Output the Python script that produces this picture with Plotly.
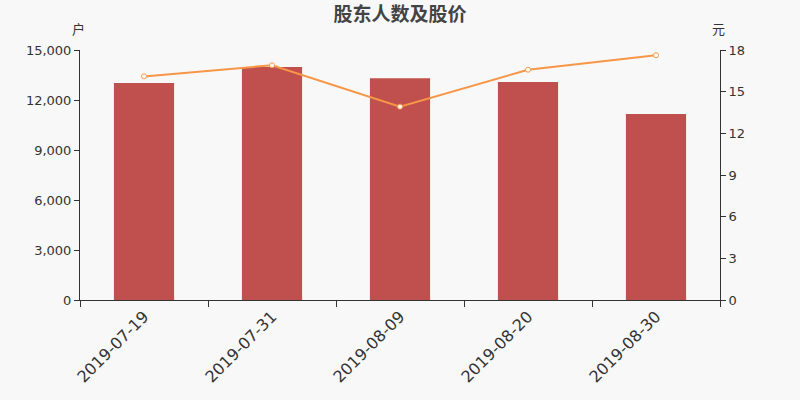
import plotly.graph_objects as go

dates = ["2019-07-19", "2019-07-31", "2019-08-09", "2019-08-20", "2019-08-30"]
holders = [13020, 13980, 13300, 13080, 11160]
prices = [16.1, 16.9, 13.92, 16.58, 17.62]

left_ticks = [0, 3000, 6000, 9000, 12000, 15000]
right_ticks = [0, 3, 6, 9, 12, 15, 18]

font_family = "DejaVu Sans, Noto Sans CJK SC, sans-serif"
cjk_family = "Noto Sans CJK SC, sans-serif"
axis_color = "#333333"
bg = "#f8f8f8"

fig = go.Figure()
fig.add_trace(go.Bar(
    x=dates, y=holders, marker=dict(color="#c0504d", line=dict(width=0)),
    width=0.47, name="股东人数", yaxis="y",
))
fig.add_trace(go.Scatter(
    x=dates, y=prices, mode="lines+markers", yaxis="y2", name="股价",
    line=dict(color="#f79646", width=2),
    marker=dict(symbol="circle", size=5, color="white",
                line=dict(color="#f79646", width=1)),
))

fig.update_layout(
    width=800, height=400,
    margin=dict(l=80, r=80, t=50, b=100),
    paper_bgcolor=bg, plot_bgcolor=bg,
    showlegend=False,
    font=dict(family=font_family, color=axis_color),
    title=dict(text="<b>股东人数及股价</b>", x=0.5, xanchor="center",
               y=0.963, yanchor="middle",
               font=dict(size=19, color="#444444", family=cjk_family)),
    xaxis=dict(
        type="category", showgrid=False, showline=True, linecolor=axis_color,
        linewidth=1, ticks="outside", ticklen=6, tickcolor=axis_color,
        tickson="boundaries", tickangle=-45,
        tickfont=dict(size=16, color=axis_color),
        zeroline=False,
    ),
    yaxis=dict(
        range=[0, 15000], tickvals=left_ticks, tickformat=",d",
        showgrid=False, showline=True, linecolor=axis_color, linewidth=1,
        ticks="outside", ticklen=5, tickcolor=axis_color,
        tickfont=dict(size=13, color=axis_color), zeroline=False,
    ),
    yaxis2=dict(
        range=[0, 18], tickvals=right_ticks, overlaying="y", side="right",
        showgrid=False, showline=True, linecolor=axis_color, linewidth=1,
        ticks="outside", ticklen=5, tickcolor=axis_color,
        tickfont=dict(size=13, color=axis_color), zeroline=False,
    ),
    annotations=[
        dict(text="户", xref="paper", yref="paper", x=-0.003, y=1.0,
             yshift=22, xanchor="center", yanchor="middle", showarrow=False,
             font=dict(size=13, color=axis_color, family=cjk_family)),
        dict(text="元", xref="paper", yref="paper", x=0.997, y=1.0,
             yshift=22, xanchor="center", yanchor="middle", showarrow=False,
             font=dict(size=13, color=axis_color, family=cjk_family)),
    ],
)

fig.write_html(
    "out.html",
    config={"displayModeBar": False},
    post_script="document.body.style.margin='0';document.body.style.background='%s';" % bg,
)
